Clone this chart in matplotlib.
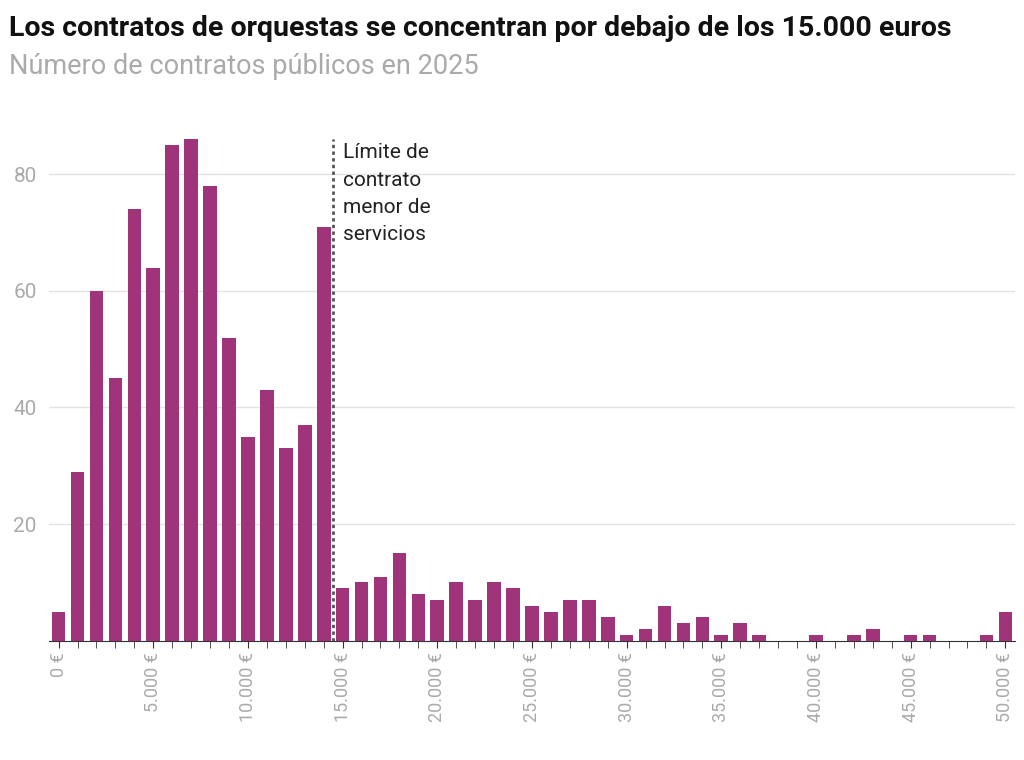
import matplotlib
matplotlib.use("Agg")
import matplotlib.pyplot as plt
import numpy as np

bins_k = list(range(0, 51))
counts = [5, 29, 60, 45, 74, 64, 85, 86, 78, 52, 35, 43, 33, 37, 71,
          9, 10, 11, 15, 8, 7, 10, 7, 10, 9, 6, 5, 7, 7, 4,
          1, 2, 6, 3, 4, 1, 3, 1, 0, 0, 1, 0, 1, 2, 0,
          1, 1, 0, 0, 1, 5]
tick_vals = [0, 5, 10, 15, 20, 25, 30, 35, 40, 45, 50]
tick_labels = ["0 €", "5.000 €", "10.000 €", "15.000 €", "20.000 €", "25.000 €",
               "30.000 €", "35.000 €", "40.000 €", "45.000 €", "50.000 €"]
limit_k = 14.5
title = "Los contratos de orquestas se concentran por debajo de los 15.000 euros"
subtitle = "Número de contratos públicos en 2025"
note = "Límite de\ncontrato\nmenor de\nservicios"

plt.rcParams['font.family'] = ['Roboto', 'DejaVu Sans']
fig = plt.figure(figsize=(10.24, 7.6), dpi=100)
ax = fig.add_axes([0.048, 0.157, 0.943, 0.675])
color = "#a0347a"
ax.bar(bins_k, counts, width=0.72, color=color, zorder=3)
ax.set_xlim(-0.5, 50.5)
ax.set_ylim(0, 88)
ax.set_yticks([20, 40, 60, 80])
ax.yaxis.grid(True, color="#e3e3e3", lw=1, zorder=0)
for s in ["top", "right", "left"]:
    ax.spines[s].set_visible(False)
ax.spines["bottom"].set_color("#333333")
ax.tick_params(axis="y", length=0, labelsize=15, labelcolor="#aaaaaa", pad=9)
ax.set_xticks(tick_vals)
ax.set_xticklabels(tick_labels, rotation=90, fontsize=13, color="#aaaaaa")
ax.set_xticks(bins_k, minor=True)
ax.tick_params(axis="x", which="both", length=5, color="#333333")
ax.vlines(limit_k, 0, 86, colors="#555555", linestyles=(0, (1.2, 1.2)), lw=2, zorder=4)
ax.text(limit_k + 0.5, 85.3, note, va="top", ha="left", fontsize=15, color="#222222", linespacing=1.55)

fig.text(0.009, 0.963, title, fontsize=20.5, fontweight="bold", color="#111111", va="center")
fig.text(0.009, 0.913, subtitle, fontsize=19.5, color="#aaaaaa", va="center")
fig.savefig("out.png", dpi=100)
